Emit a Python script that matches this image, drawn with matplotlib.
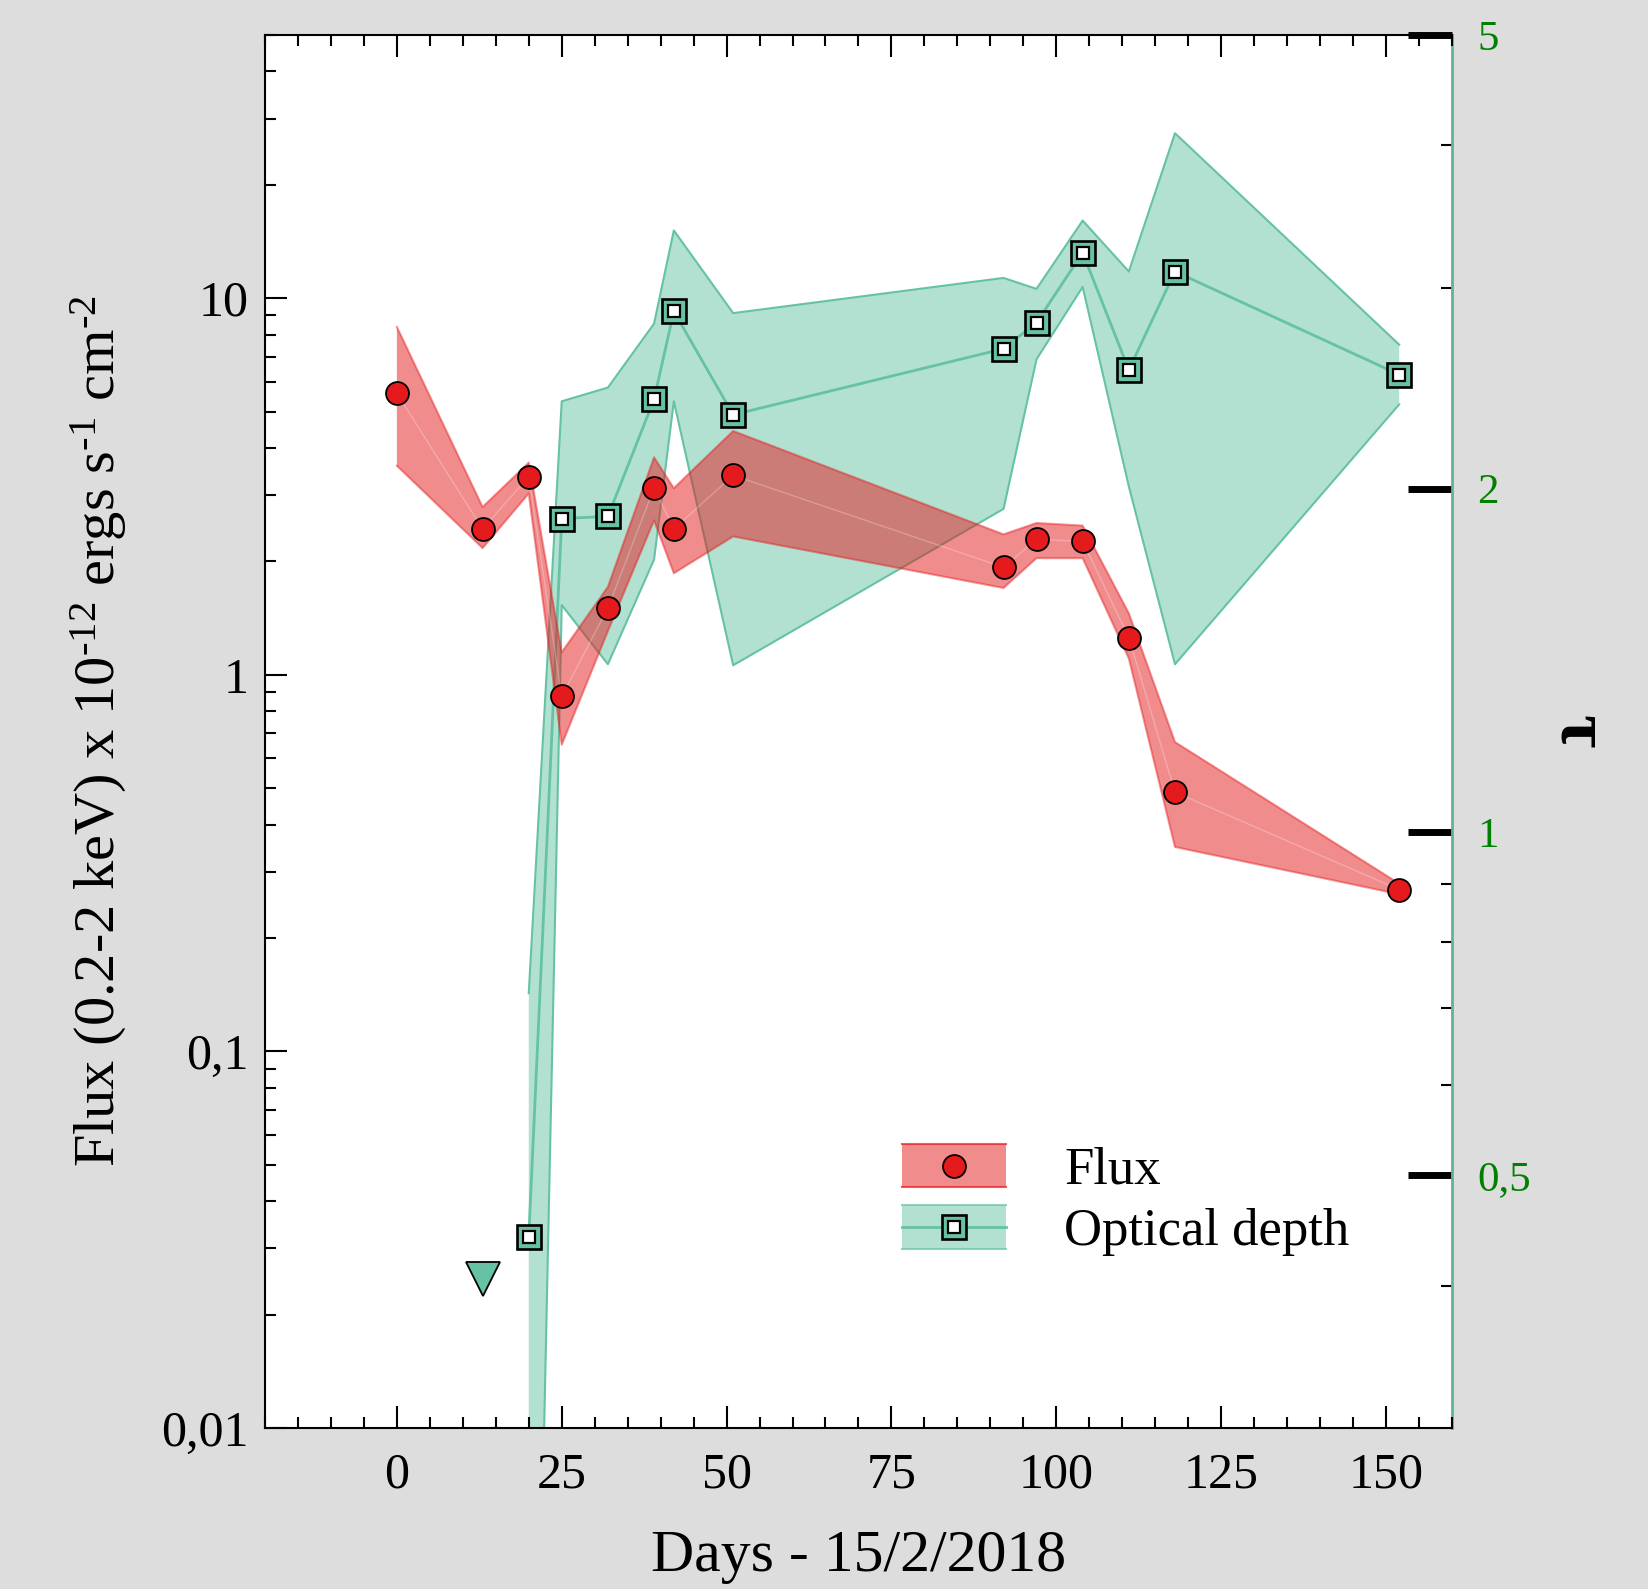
import matplotlib
matplotlib.use("Agg")
import matplotlib.pyplot as plt
from matplotlib.legend_handler import HandlerBase
from matplotlib.patches import Rectangle
from matplotlib.lines import Line2D
from matplotlib.ticker import FixedLocator, FixedFormatter, NullFormatter, MultipleLocator, LogLocator

plt.rcParams['font.family'] = ['Liberation Serif', 'DejaVu Serif']
plt.rcParams['mathtext.fontset'] = 'custom'
plt.rcParams['mathtext.rm'] = 'Liberation Serif'
plt.rcParams['mathtext.it'] = 'Liberation Serif:italic'
plt.rcParams['mathtext.bf'] = 'Liberation Serif:bold'

# ---------------- data ----------------
days_flux = [0, 13, 20, 25, 32, 39, 42, 51, 92, 97, 104, 111, 118, 152]
flux      = [5.59, 2.44, 3.36, 0.876, 1.505, 3.13, 2.44, 3.385, 1.93, 2.29, 2.26, 1.256, 0.488, 0.269]
flux_lo   = [3.59, 2.17, 3.03, 0.652, 1.306, 2.57, 1.86, 2.33, 1.70, 2.04, 2.04, 1.105, 0.349, 0.2615]
flux_hi   = [8.39, 2.79, 3.66, 1.148, 1.712, 3.78, 3.13, 4.44, 2.36, 2.53, 2.49, 1.457, 0.663, 0.279]

days_tau = [20, 25, 32, 39, 42, 51, 92, 97, 104, 111, 118, 152]
tau      = [0.441, 1.883, 1.891, 2.395, 2.861, 2.322, 2.653, 2.797, 3.221, 2.542, 3.101, 2.518]
tau_lo   = [0.07, 1.581, 1.403, 1.733, 2.386, 1.400, 1.920, 2.597, 3.006, 2.009, 1.403, 2.371]
tau_hi   = [0.722, 2.386, 2.453, 2.791, 3.369, 2.851, 3.061, 2.994, 3.437, 3.101, 4.10, 2.675]

limit_day = [13]
limit_flux = [0.0249]

flux_ticks = [0.01, 0.1, 1, 10]
flux_ticklabels = ['0,01', '0,1', '1', '10']
tau_ticks = [0.5, 1, 2, 5]
tau_ticklabels = ['0,5', '1', '2', '5']
tau_minor = [0.4, 0.6, 0.7, 0.8, 0.9, 3, 4]

RED = '#E41A1C'
GREEN = '#66C2A5'
SPINE_GREEN = '#5DB592'
LABEL_GREEN = '#008000'

# ---------------- figure ----------------
fig = plt.figure(figsize=(16.49, 15.89), dpi=100, facecolor='#DDDDDD')
rect = [0.1607, 0.1013, 0.7198, 0.8767]

# tau axis (drawn underneath)
ax2 = fig.add_axes(rect, facecolor='white')
ax2.set_yscale('log')
ax2.set_xlim(-20, 160)
ax2.set_ylim(0.3, 5)
ax2.fill_between(days_tau, tau_lo, tau_hi, facecolor=GREEN, alpha=0.5, linewidth=0)
ax2.plot(days_tau, tau_hi, color=GREEN, lw=1.5)
ax2.plot(days_tau, tau_lo, color=GREEN, lw=1.5)
ax2.plot(days_tau, tau, color=GREEN, lw=2)
ax2.plot(days_tau, tau, ls='none', marker='s', ms=17, mfc=GREEN, mec='k', mew=1.9)
ax2.plot(days_tau, tau, ls='none', marker='s', ms=8.5, mfc='white', mec='k', mew=1.6)

ax2.yaxis.tick_right()
ax2.yaxis.set_label_position('right')
ax2.set_xticks([])
for s in ('left', 'top', 'bottom'):
    ax2.spines[s].set_visible(False)
ax2.spines['right'].set_color(SPINE_GREEN)
ax2.spines['right'].set_linewidth(2)
ax2.yaxis.set_major_locator(FixedLocator(tau_ticks))
ax2.yaxis.set_major_formatter(FixedFormatter(tau_ticklabels))
ax2.yaxis.set_minor_locator(FixedLocator(tau_minor))
ax2.yaxis.set_minor_formatter(NullFormatter())
ax2.tick_params(axis='y', which='major', direction='in', length=32, width=5,
                color='k', labelcolor=LABEL_GREEN, labelsize=31, pad=18)
ax2.tick_params(axis='y', which='minor', direction='in', length=8, width=1.5, color='k')
ax2.set_ylabel('τ', rotation=270, fontsize=52, fontweight='bold', va='center', ha='center')
ax2.yaxis.set_label_coords(1.106, 0.5)

# flux axis (on top)
ax = fig.add_axes(rect)
ax.patch.set_visible(False)
ax.set_yscale('log')
ax.set_xlim(-20, 160)
ax.set_ylim(0.01, 50)
ax.fill_between(days_flux, flux_lo, flux_hi, facecolor=RED, alpha=0.5, linewidth=0)
ax.plot(days_flux, flux_hi, color=RED, alpha=0.45, lw=1.5)
ax.plot(days_flux, flux_lo, color=RED, alpha=0.45, lw=1.5)
ax.plot(days_flux, flux, color='white', alpha=0.25, lw=1)
ax.plot(days_flux, flux, ls='none', marker='o', ms=16.5, mfc=RED, mec='k', mew=1.3)
ax.plot(limit_day, limit_flux, ls='none', marker='v', ms=24, mfc=GREEN, mec='k', mew=1.3)

ax.spines['right'].set_visible(False)
for s in ('left', 'top', 'bottom'):
    ax.spines[s].set_linewidth(1.5)
ax.xaxis.set_major_locator(MultipleLocator(25))
ax.xaxis.set_minor_locator(MultipleLocator(5))
ax.yaxis.set_major_locator(FixedLocator(flux_ticks))
ax.yaxis.set_major_formatter(FixedFormatter(flux_ticklabels))
ax.yaxis.set_minor_locator(LogLocator(base=10, subs=[2, 3, 4, 5, 6, 7, 8, 9]))
ax.yaxis.set_minor_formatter(NullFormatter())
ax.tick_params(which='both', direction='in', top=True, right=False, width=1.5)
ax.tick_params(which='major', length=16, labelsize=36)
ax.tick_params(which='minor', length=8)
ax.tick_params(axis='x', which='major', pad=17)
ax.tick_params(axis='y', which='major', pad=12)

ax.set_xlabel('Days - 15/2/2018', fontsize=43)
ax.xaxis.set_label_coords(0.5, -0.073)
ax.set_ylabel(r'Flux (0.2-2 keV) x 10$^{\text{-12}}$ ergs s$^{\text{-1}}$ cm$^{\text{-2}}$',
              fontsize=42, va='center')
ax.yaxis.set_label_coords(-0.14, 0.5)


# ---------------- legend ----------------
class BandHandler(HandlerBase):
    def __init__(self, color, marker, ms, mew, inner=False, midline=False):
        super().__init__()
        self.color = color
        self.marker = marker
        self.ms = ms
        self.mew = mew
        self.inner = inner
        self.midline = midline

    def create_artists(self, legend, orig_handle, xdescent, ydescent, width, height, fontsize, trans):
        x0, y0 = -xdescent, -ydescent
        arts = [Rectangle((x0, y0), width, height, facecolor=self.color, alpha=0.5, edgecolor='none')]
        for yy in (y0, y0 + height):
            arts.append(Line2D([x0, x0 + width], [yy, yy], color=self.color, lw=1.5, alpha=0.7))
        yc = y0 + height / 2
        xc = x0 + width / 2
        if self.midline:
            arts.append(Line2D([x0, x0 + width], [yc, yc], color=self.color, lw=2))
        mfc = RED if self.marker == 'o' else GREEN
        arts.append(Line2D([xc], [yc], ls='none', marker=self.marker, ms=self.ms, mfc=mfc, mec='k', mew=self.mew))
        if self.inner:
            arts.append(Line2D([xc], [yc], ls='none', marker='s', ms=8.5, mfc='white', mec='k', mew=1.6))
        for a in arts:
            a.set_transform(trans)
        return arts


h_flux = Line2D([], [])
h_tau = Line2D([], [])
ax.legend([h_flux, h_tau], ['Flux', 'Optical depth'],
          handler_map={h_flux: BandHandler(RED, 'o', 16.5, 1.3),
                       h_tau: BandHandler(GREEN, 's', 17, 1.9, inner=True, midline=True)},
          loc='upper left', bbox_to_anchor=(0.537, 0.204), frameon=False, fontsize=38,
          handlelength=1.97, handleheight=0.89, handletextpad=1.1, labelspacing=0.2,
          borderpad=0, borderaxespad=0)

fig.savefig('out.png', dpi=100, facecolor=fig.get_facecolor())
